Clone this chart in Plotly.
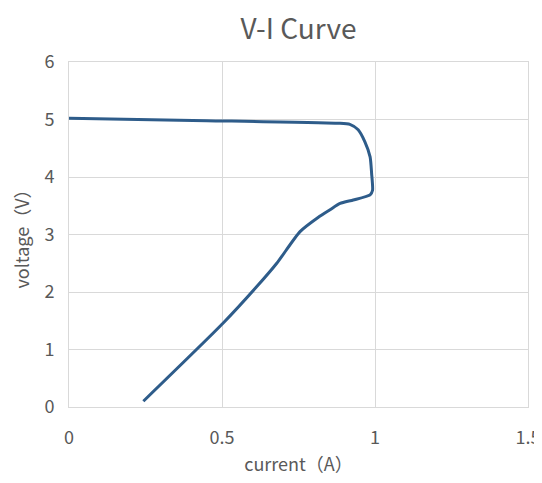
import plotly.graph_objects as go

current = [0.0, 0.45, 0.88, 0.918, 0.945, 0.967, 0.984, 0.989, 0.992, 0.984, 0.929, 0.886, 0.853, 0.815, 0.755, 0.679, 0.613, 0.504, 0.243]
voltage = [5.02, 4.98, 4.935, 4.915, 4.82, 4.61, 4.35, 4.06, 3.77, 3.69, 3.60, 3.54, 3.43, 3.30, 3.05, 2.50, 2.09, 1.46, 0.10]

x_ticks = [0, 0.5, 1, 1.5]
x_ticklabels = ["0", "0.5", "1", "1.5"]
y_ticks = [0, 1, 2, 3, 4, 5, 6]

FONT = "Noto Sans CJK SC, Noto Sans, sans-serif"
GREY = "#595959"

fig = go.Figure()
fig.add_trace(go.Scatter(
    x=current, y=voltage, mode="lines",
    line=dict(color="#2E5C8A", width=3, shape="spline", smoothing=0.6),
    showlegend=False,
))

fig.update_layout(
    width=534, height=475,
    margin=dict(l=61, r=14, t=54, b=76, autoexpand=False),
    paper_bgcolor="white", plot_bgcolor="white",
    font=dict(family=FONT, color=GREY, size=18),
    title=dict(text="V-I Curve", x=0.5, xref="paper", xanchor="center", y=0.956, yanchor="middle",
               font=dict(size=28, color=GREY, family=FONT)),
    xaxis=dict(
        range=[0, 1.5], tickvals=x_ticks, ticktext=x_ticklabels,
        showgrid=True, gridcolor="#d9d9d9", gridwidth=1,
        zeroline=False, showline=True, linecolor="#d9d9d9", mirror=True,
        ticks="", ticklabelstandoff=14, automargin=False,
        tickfont=dict(size=18, color=GREY),
        title=dict(text="current（A）", font=dict(size=18, color=GREY), standoff=10),
    ),
    yaxis=dict(
        range=[0, 6], tickvals=y_ticks,
        showgrid=True, gridcolor="#d9d9d9", gridwidth=1,
        zeroline=False, showline=True, linecolor="#d9d9d9", mirror=True,
        ticks="", ticklabelstandoff=10, automargin=False,
        tickfont=dict(size=18, color=GREY),
        title=dict(text="voltage（V）", font=dict(size=18, color=GREY), standoff=16),
    ),
)

fig.write_html("out.html")
